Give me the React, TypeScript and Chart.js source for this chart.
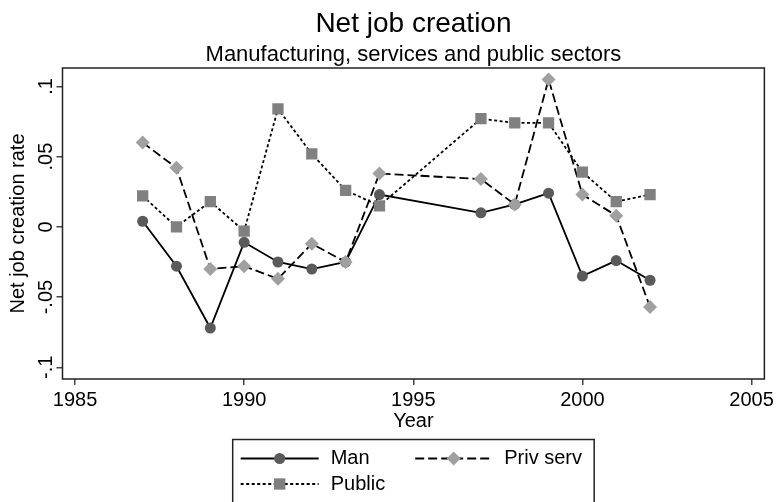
import React, { useEffect, useRef } from 'react';
import { Chart, registerables } from 'chart.js';

Chart.register(...registerables);

const years = [1987, 1988, 1989, 1990, 1991, 1992, 1993, 1994, 1997, 1998, 1999, 2000, 2001, 2002];
const man = [0.004, -0.028, -0.072, -0.011, -0.025, -0.030, -0.025, 0.023, 0.010, 0.016, 0.024, -0.035, -0.024, -0.038];
const privServ = [0.060, 0.042, -0.030, -0.028, -0.037, -0.012, -0.025, 0.038, 0.034, 0.016, 0.105, 0.023, 0.008, -0.057];
const publicSector = [0.022, 0.000, 0.018, -0.003, 0.084, 0.052, 0.026, 0.015, 0.077, 0.074, 0.074, 0.039, 0.018, 0.023];

const seriesLabels = ['Man', 'Priv serv', 'Public'];
const xTickValues = [1985, 1990, 1995, 2000, 2005];
const yTickValues = [-0.1, -0.05, 0, 0.05, 0.1];
const yTickLabels = ['-.1', '-.05', '0', '.05', '.1'];
const titleText = 'Net job creation';
const subtitleText = 'Manufacturing, services and public sectors';
const xTitle = 'Year';
const yTitle = 'Net job creation rate';

const FONT = '"Liberation Sans", Arial, Helvetica, sans-serif';

const framePlugin = {
  id: 'frame',
  beforeDatasetsDraw(chart: any) {
    const { ctx, chartArea } = chart;
    ctx.save();
    ctx.strokeStyle = '#222';
    ctx.lineWidth = 1.5;
    ctx.strokeRect(chartArea.left, chartArea.top, chartArea.right - chartArea.left, chartArea.bottom - chartArea.top);
    ctx.restore();
  },
};

function drawMarker(ctx: CanvasRenderingContext2D, style: string, x: number, y: number, r: number, color: string) {
  ctx.fillStyle = color;
  ctx.beginPath();
  if (style === 'circle') {
    ctx.arc(x, y, r, 0, Math.PI * 2);
  } else if (style === 'rect') {
    const s = r * Math.SQRT1_2;
    ctx.rect(x - s, y - s, 2 * s, 2 * s);
  } else {
    ctx.moveTo(x, y - r);
    ctx.lineTo(x + r, y);
    ctx.lineTo(x, y + r);
    ctx.lineTo(x - r, y);
    ctx.closePath();
  }
  ctx.fill();
}

const legendPlugin = {
  id: 'stataLegend',
  afterDraw(chart: any) {
    const { ctx, chartArea } = chart;
    const cx = (chartArea.left + chartArea.right) / 2;
    const w = 361.5;
    const left = cx - w / 2;
    const top = chartArea.bottom + 60.5;
    ctx.save();
    ctx.strokeStyle = '#222';
    ctx.lineWidth = 1.5;
    ctx.strokeRect(left, top, w, 80);
    const slots = [
      { x0: 8, x1: 86, tx: 98, row: 0 },
      { x0: 182.5, x1: 259.5, tx: 271.5, row: 0 },
      { x0: 8, x1: 86, tx: 98, row: 1 },
    ];
    const rowsY = [top + 19, top + 44.5];
    chart.data.datasets.forEach((ds: any, i: number) => {
      const s = slots[i];
      const y = rowsY[s.row];
      ctx.save();
      ctx.strokeStyle = ds.borderColor;
      ctx.lineWidth = ds.borderWidth;
      ctx.setLineDash(ds.borderDash || []);
      ctx.beginPath();
      ctx.moveTo(left + s.x0, y);
      ctx.lineTo(left + s.x1, y);
      ctx.stroke();
      ctx.restore();
      drawMarker(ctx, ds.pointStyle, left + (s.x0 + s.x1) / 2, y, ds.pointRadius, ds.pointBackgroundColor);
      ctx.fillStyle = '#000';
      ctx.font = `20px ${FONT}`;
      ctx.textAlign = 'left';
      ctx.textBaseline = 'middle';
      ctx.fillText(ds.label, left + s.tx, y);
    });
    ctx.restore();
  },
};

export default function App() {
  const canvasRef = useRef<HTMLCanvasElement | null>(null);

  useEffect(() => {
    document.body.style.margin = '0';
    const canvas = canvasRef.current;
    if (!canvas) return;
    Chart.defaults.font.family = FONT;
    Chart.defaults.color = '#000';

    const toPoints = (vals: number[]) => years.map((yr, i) => ({ x: yr, y: vals[i] }));

    const chart = new Chart(canvas, {
      type: 'line',
      data: {
        datasets: [
          {
            label: seriesLabels[0],
            data: toPoints(man),
            borderColor: '#000',
            borderWidth: 1.8,
            borderDash: [],
            pointStyle: 'circle',
            pointRadius: 5.5,
            pointBackgroundColor: '#5a5a5a',
            pointBorderWidth: 0,
            pointBorderColor: '#5a5a5a',
            order: 3,
          },
          {
            label: seriesLabels[1],
            data: toPoints(privServ),
            borderColor: '#000',
            borderWidth: 1.8,
            borderDash: [9, 4],
            pointStyle: 'rectRot',
            pointRadius: 7,
            pointBackgroundColor: '#a0a0a0',
            pointBorderWidth: 0,
            pointBorderColor: '#a0a0a0',
            order: 2,
          },
          {
            label: seriesLabels[2],
            data: toPoints(publicSector),
            borderColor: '#000',
            borderWidth: 1.8,
            borderDash: [3, 2.5],
            pointStyle: 'rect',
            pointRadius: 8,
            pointBackgroundColor: '#808080',
            pointBorderWidth: 0,
            pointBorderColor: '#808080',
            order: 1,
          },
        ] as any,
      },
      options: {
        responsive: false,
        animation: false,
        layout: { padding: { left: 0, right: 10, top: 0, bottom: 68.5 } },
        plugins: {
          legend: { display: false },
          tooltip: { enabled: false },
          title: {
            display: true,
            text: titleText,
            fullSize: false,
            color: '#000',
            font: { size: 28, weight: 'normal', lineHeight: 1 },
            padding: { top: 10, bottom: 0 },
          },
          subtitle: {
            display: true,
            text: subtitleText,
            fullSize: false,
            color: '#000',
            font: { size: 22, weight: 'normal', lineHeight: 1 },
            padding: { top: 5.5, bottom: 2.5 },
          },
        },
        scales: {
          x: {
            type: 'linear',
            min: 1984.63,
            max: 2005.38,
            afterBuildTicks: (scale: any) => {
              scale.ticks = xTickValues.map((v) => ({ value: v }));
            },
            ticks: {
              font: { size: 20 },
              padding: 3,
              maxRotation: 0,
              minRotation: 0,
              callback: (v: any) => String(v),
            },
            grid: { display: true, drawOnChartArea: false, drawTicks: true, tickLength: 6, color: '#444', lineWidth: 1.5 },
            border: { display: false },
            title: { display: true, text: xTitle, font: { size: 20 }, padding: { top: -5.5, bottom: 0 } },
          },
          y: {
            type: 'linear',
            min: -0.1083,
            max: 0.1131,
            afterBuildTicks: (scale: any) => {
              scale.ticks = yTickValues.map((v) => ({ value: v }));
            },
            afterFit: (scale: any) => {
              scale.width = 62.5;
            },
            ticks: {
              font: { size: 20 },
              padding: -7,
              minRotation: 90,
              maxRotation: 90,
              crossAlign: 'center',
              callback: (v: any) => {
                const idx = yTickValues.findIndex((t) => Math.abs(t - Number(v)) < 1e-9);
                return idx >= 0 ? yTickLabels[idx] : '';
              },
            },
            grid: { display: true, drawOnChartArea: false, drawTicks: true, tickLength: 6, color: '#444', lineWidth: 1.5 },
            border: { display: false },
            title: { display: true, text: yTitle, font: { size: 20 }, padding: { top: 6, bottom: 0 } },
          },
        },
      } as any,
      plugins: [framePlugin, legendPlugin],
    });

    return () => chart.destroy();
  }, []);

  return (
    <div style={{ width: 777, height: 502 }}>
      <canvas ref={canvasRef} width={777} height={502} />
    </div>
  );
}
